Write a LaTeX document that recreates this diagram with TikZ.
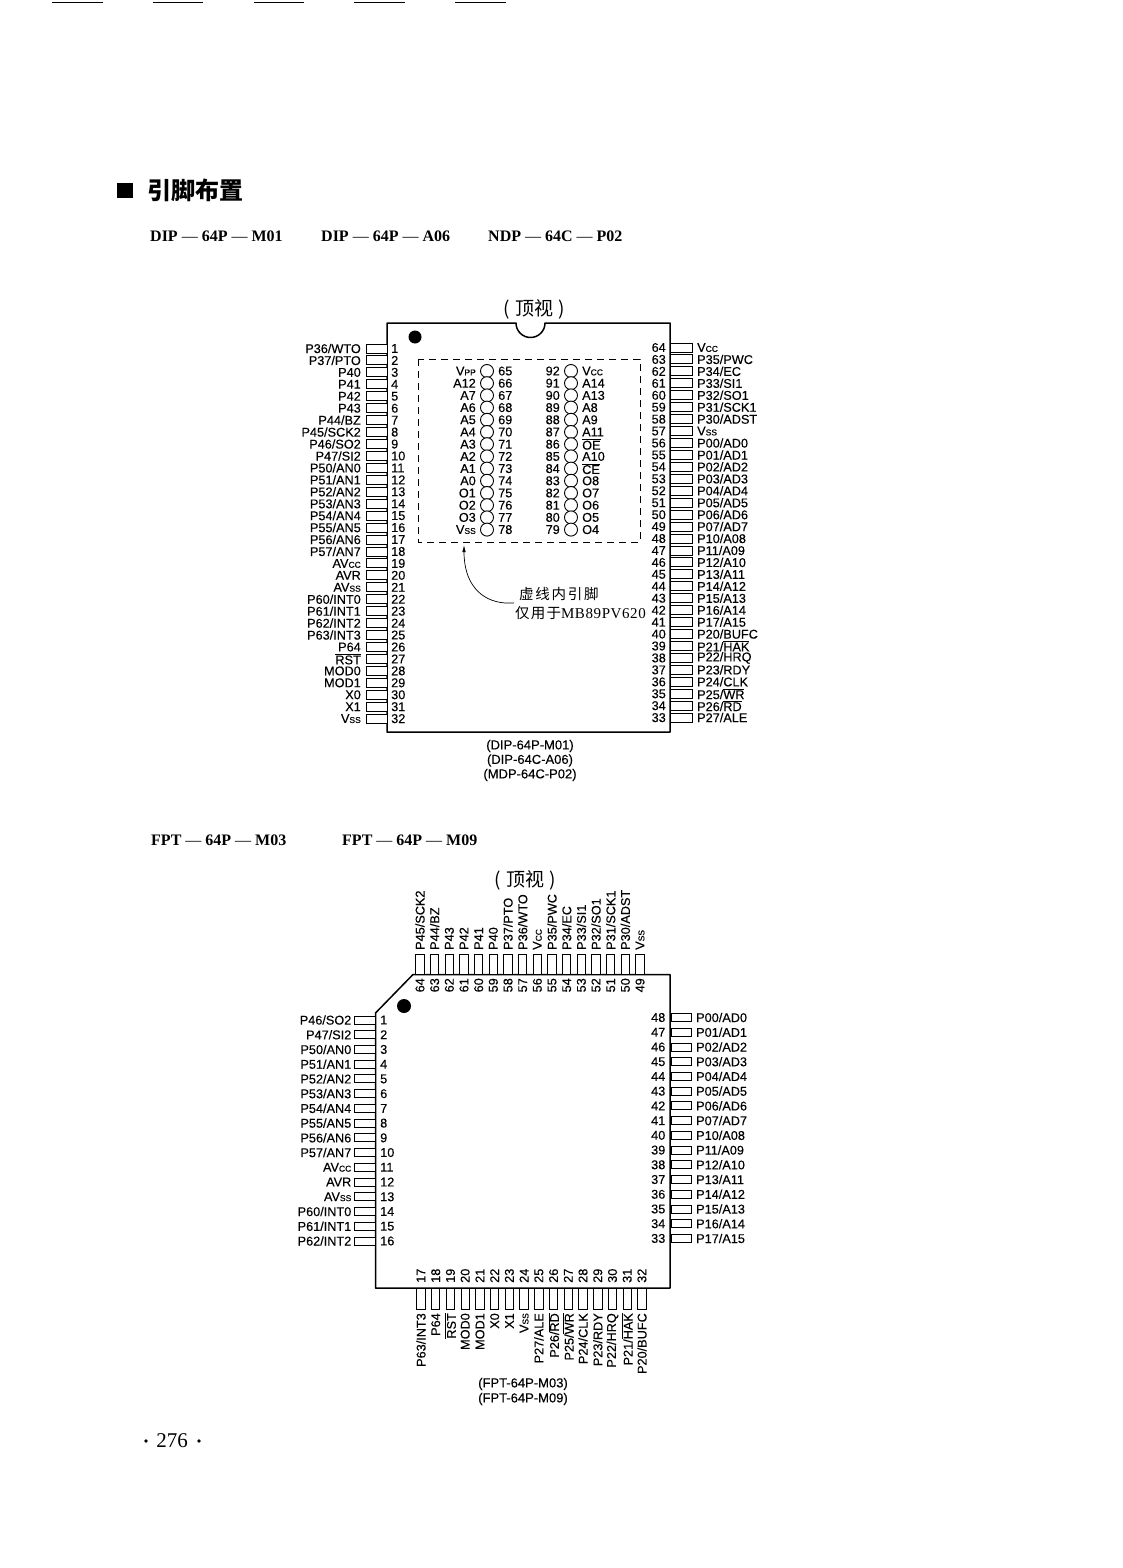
\documentclass[tikz,border=0pt]{standalone}
\usepackage{fontspec}
\setmainfont[FakeBold=0.25]{Liberation Sans}
\newfontfamily\cjk{Noto Sans CJK SC}
\newfontfamily\srf{Liberation Serif}
\usetikzlibrary{arrows.meta}
\newcommand\ol[1]{\ensuremath{\overline{\mbox{#1}}}}
\newcommand\sml[1]{{\fontsize{8.5}{9}\selectfont #1}}
\newcommand\dsh{\hspace{4pt}{\mdseries —}\hspace{4pt}}
\tikzset{
  pinfont/.style={font=\fontsize{12.7}{12.7}\selectfont,inner sep=0pt},
  body/.style={draw,line width=1.5pt,line join=round},
  pinbox/.style={draw,line width=0.9pt,fill=white},
  hole/.style={draw,line width=0.9pt,fill=white,circle,inner sep=0pt,minimum size=13pt},
  head/.style={font=\srf\bfseries\fontsize{16}{16}\selectfont,anchor=west,inner sep=0pt},
  captext/.style={font=\fontsize{13}{13}\selectfont,inner sep=0pt},
  topview/.style={font=\cjk\fontsize{19}{19}\selectfont,inner sep=0pt},
  rule90/.style={rotate=90,pinfont}
}
\begin{document}
\begin{tikzpicture}[x=1pt,y=-1pt]
\useasboundingbox (0,0) rectangle (1122,1568);
\fill[white] (0,0) rectangle (1122,1568);
% top rules
\foreach \a/\b in {52/103,153/203,254/304,354/405,455/506}
  \draw[line width=1.2pt] (\a,2.5) -- (\b,2.5);
% title
\fill (117,183) rectangle (133,198);
\node[font=\cjk\bfseries\fontsize{24}{24}\selectfont,anchor=west,inner sep=0pt] (title) at (147,190) {引脚布置};
\node[head] (h1) at (150,236) {DIP\dsh 64P\dsh M01};
\node[head] (h2) at (321,236) {DIP\dsh 64P\dsh A06};
\node[head] (h3) at (488,236) {NDP\dsh 64C\dsh P02};
\node[head] (h4) at (151,840) {FPT\dsh 64P\dsh M03};
\node[head] (h5) at (342,840) {FPT\dsh 64P\dsh M09};
% ---------- DIP ----------
\node[topview] (tv1) at (534,309) {(\hspace{5pt}顶视\hspace{5pt})};
\draw[body] (387,323) -- (516,323) arc[start angle=180,end angle=0,radius=14.5] -- (670,323) -- (670,732) -- (387,732) -- cycle;
\fill (415,337) circle (6.5);
\foreach \t [count=\i] in {P36/WTO,P37/PTO,P40,P41,P42,P43,P44/BZ,P45/SCK2,P46/SO2,P47/SI2,P50/AN0,P51/AN1,P52/AN2,P53/AN3,P54/AN4,P55/AN5,P56/AN6,P57/AN7,AV\sml{CC},AVR,AV\sml{SS},P60/INT0,P61/INT1,P62/INT2,P63/INT3,P64,\ol{RST},MOD0,MOD1,X0,X1,V\sml{SS}}{
  \pgfmathsetmacro\yy{348.5+(\i-1)*11.94}
  \draw[pinbox] (366,\yy-4.5) rectangle (387,\yy+4.5);
  \node[pinfont,anchor=east] (dl\i) at (361,\yy) {\t};
  \node[pinfont,anchor=west] (dn\i) at (391,\yy) {\i};
}
\foreach \t [count=\c] in {V\sml{CC},P35/PWC,P34/EC,P33/SI1,P32/SO1,P31/SCK1,P30/ADST,V\sml{SS},P00/AD0,P01/AD1,P02/AD2,P03/AD3,P04/AD4,P05/AD5,P06/AD6,P07/AD7,P10/A08,P11/A09,P12/A10,P13/A11,P14/A12,P15/A13,P16/A14,P17/A15,P20/BUFC,P21/\ol{HAK},P22/HRQ,P23/RDY,P24/CLK,P25/\ol{WR},P26/\ol{RD},P27/ALE}{
  \pgfmathtruncatemacro\nn{65-\c}
  \pgfmathsetmacro\yy{347.5+(\c-1)*11.94}
  \draw[pinbox] (670,\yy-4.5) rectangle (692,\yy+4.5);
  \node[pinfont,anchor=east] (rn\nn) at (666,\yy) {\nn};
  \node[pinfont,anchor=west] (rl\nn) at (697,\yy) {\t};
}
% dashed window
\draw[line width=0.8pt,dash pattern=on 7pt off 5pt] (418,359) rectangle (640,542);
\foreach \t [count=\c] in {V\sml{PP},A12,A7,A6,A5,A4,A3,A2,A1,A0,O1,O2,O3,V\sml{SS}}{
  \pgfmathtruncatemacro\nn{64+\c}
  \pgfmathsetmacro\yy{371+(\c-1)*12.2}
  \node[hole] (ca\nn) at (487,\yy) {};
  \node[pinfont,anchor=east] (la\nn) at (476,\yy) {\t};
  \node[pinfont,anchor=west] (na\nn) at (498,\yy) {\nn};
}
\foreach \t [count=\c] in {V\sml{CC},A14,A13,A8,A9,A11,\ol{OE},A10,\ol{CE},O8,O7,O6,O5,O4}{
  \pgfmathtruncatemacro\nn{93-\c}
  \pgfmathsetmacro\yy{371+(\c-1)*12.2}
  \node[hole] (cb\nn) at (571,\yy) {};
  \node[pinfont,anchor=east] (nb\nn) at (560,\yy) {\nn};
  \node[pinfont,anchor=west] (lb\nn) at (582,\yy) {\t};
}
\node[font=\cjk\fontsize{14.5}{15}\selectfont,anchor=west,inner sep=0pt] (note1) at (519,594) {\addfontfeature{LetterSpace=12}虚线内引脚};
\node[font=\cjk\fontsize{14.5}{15}\selectfont,anchor=west,inner sep=0pt] (note2) at (515,613) {\addfontfeature{LetterSpace=8}仅用于{\srf\fontsize{15}{15}\selectfont\addfontfeature{LetterSpace=4}MB89PV620}};
\coordinate (leadstart) at (514,603);
\coordinate (leadtip) at (464,545);
\draw[line width=0.7pt,-{Latex[length=7pt,width=3.5pt]}] (leadstart) -- (505,603) .. controls (480,601) and (464,583) .. (leadtip);
\node[captext] (c1) at (530,746) {(DIP-64P-M01)};
\node[captext] (c2) at (530,760.5) {(DIP-64C-A06)};
\node[captext] (c3) at (530,775) {(MDP-64C-P02)};
% ---------- FPT ----------
\node[topview] (tv2) at (525,880) {(\hspace{5pt}顶视\hspace{5pt})};
\draw[body] (413,974.5) -- (670,974.5) -- (670,1288) -- (375.5,1288) -- (375.5,1013) -- cycle;
\fill (404,1006) circle (7);
\foreach \t [count=\i] in {P46/SO2,P47/SI2,P50/AN0,P51/AN1,P52/AN2,P53/AN3,P54/AN4,P55/AN5,P56/AN6,P57/AN7,AV\sml{CC},AVR,AV\sml{SS},P60/INT0,P61/INT1,P62/INT2}{
  \pgfmathsetmacro\yy{1020+(\i-1)*14.73}
  \draw[pinbox] (354,\yy-4) rectangle (375,\yy+4);
  \node[pinfont,anchor=east] (fl\i) at (351.5,\yy) {\t};
  \node[pinfont,anchor=west] (fn\i) at (380,\yy) {\i};
}
\foreach \t [count=\c] in {P00/AD0,P01/AD1,P02/AD2,P03/AD3,P04/AD4,P05/AD5,P06/AD6,P07/AD7,P10/A08,P11/A09,P12/A10,P13/A11,P14/A12,P15/A13,P16/A14,P17/A15}{
  \pgfmathtruncatemacro\nn{49-\c}
  \pgfmathsetmacro\yy{1017.5+(\c-1)*14.73}
  \draw[pinbox] (671,\yy-4) rectangle (691,\yy+4);
  \node[pinfont,anchor=east] (frn\nn) at (665.5,\yy) {\nn};
  \node[pinfont,anchor=west] (frl\nn) at (696,\yy) {\t};
}
\foreach \t [count=\c] in {P45/SCK2,P44/BZ,P43,P42,P41,P40,P37/PTO,P36/WTO,V\sml{CC},P35/PWC,P34/EC,P33/SI1,P32/SO1,P31/SCK1,P30/ADST,V\sml{SS}}{
  \pgfmathtruncatemacro\nn{65-\c}
  \pgfmathsetmacro\xx{420+(\c-1)*14.67}
  \draw[pinbox] (\xx-4.2,954) rectangle (\xx+4.2,974);
  \node[rule90,anchor=west] (ftl\nn) at (\xx,950) {\t};
  \node[rule90,anchor=east] (ftn\nn) at (\xx,978) {\nn};
}
\foreach \t [count=\c] in {P63/INT3,P64,\ol{RST},MOD0,MOD1,X0,X1,V\sml{SS},P27/ALE,P26/\ol{RD},P25/\ol{WR},P24/CLK,P23/RDY,P22/HRQ,P21/\ol{HAK},P20/BUFC}{
  \pgfmathtruncatemacro\nn{16+\c}
  \pgfmathsetmacro\xx{421+(\c-1)*14.73}
  \draw[pinbox] (\xx-4.2,1288) rectangle (\xx+4.2,1309);
  \node[rule90,anchor=east] (fbl\nn) at (\xx,1313) {\t};
  \node[rule90,anchor=west] (fbn\nn) at (\xx,1283) {\nn};
}
\node[captext] (c4) at (523,1384) {(FPT-64P-M03)};
\node[captext] (c5) at (523,1399) {(FPT-64P-M09)};
% page number
\node[font=\srf\fontsize{21}{21}\selectfont,inner sep=0pt] (page) at (172,1441) {276};
\fill (146,1441) circle (1.8);
\fill (199,1441) circle (1.8);
\end{tikzpicture}
\end{document}
